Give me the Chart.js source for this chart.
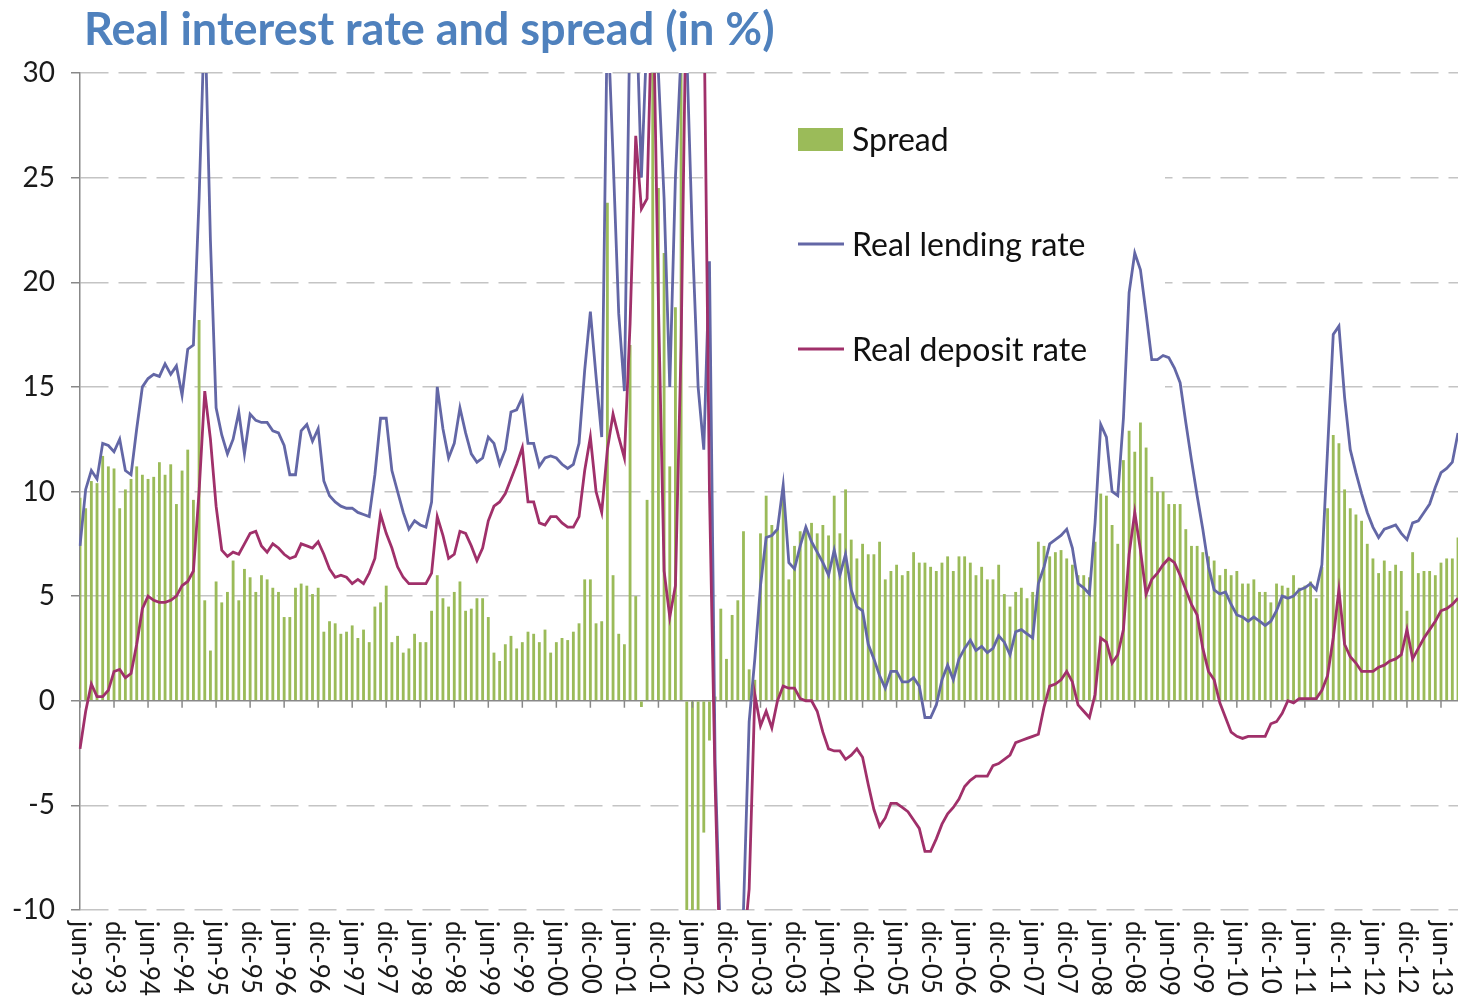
<!DOCTYPE html>
<html>
<head>
<meta charset="utf-8">
<title>Real interest rate and spread</title>
<script src="https://cdn.jsdelivr.net/npm/chart.js@4.4.1/dist/chart.umd.min.js"></script>
<style>
  html, body { margin: 0; padding: 0; background: #fff; }
  #wrap { width: 1458px; height: 1001px; }
</style>
</head>
<body>
<div id="wrap"><canvas id="myChart" width="1458" height="1001"></canvas></div>
<script>
const monthNames = ["ene", "feb", "mar", "abr", "may", "jun", "jul", "ago", "sep", "oct", "nov", "dic"];

// labels shown under the axis (every 6 months)
const tickLabels = [
  "jun-93", "dic-93", "jun-94", "dic-94", "jun-95", "dic-95", "jun-96", "dic-96",
  "jun-97", "dic-97", "jun-98", "dic-98", "jun-99", "dic-99", "jun-00", "dic-00",
  "jun-01", "dic-01", "jun-02", "dic-02", "jun-03", "dic-03", "jun-04", "dic-04",
  "jun-05", "dic-05", "jun-06", "dic-06", "jun-07", "dic-07", "jun-08", "dic-08",
  "jun-09", "dic-09", "jun-10", "dic-10", "jun-11", "dic-11", "jun-12", "dic-12",
  "jun-13"
];

// monthly values, jun-93 .. sep-13 (each row = jun..may)
const spread = [
  9.7, 9.2, 10.5, 10.4, 11.7, 11.2, 11.1, 9.2, 10.1, 10.6, 11.2, 10.8,
  10.6, 10.7, 11.4, 10.8, 11.3, 9.4, 11.0, 12.0, 9.6, 18.2, 4.8, 2.4,
  5.7, 4.7, 5.2, 6.7, 4.8, 6.3, 5.9, 5.2, 6.0, 5.8, 5.4, 5.2,
  4.0, 4.0, 5.4, 5.6, 5.5, 5.1, 5.4, 3.3, 3.8, 3.7, 3.2, 3.3,
  3.6, 3.0, 3.4, 2.8, 4.5, 4.7, 5.5, 2.8, 3.1, 2.3, 2.5, 3.2,
  2.8, 2.8, 4.3, 6.0, 4.9, 4.5, 5.2, 5.7, 4.3, 4.4, 4.9, 4.9,
  4.0, 2.3, 1.9, 2.7, 3.1, 2.5, 2.8, 3.3, 3.2, 2.8, 3.4, 2.3,
  2.8, 3.0, 2.9, 3.3, 3.7, 5.8, 5.8, 3.7, 3.8, 23.8, 6.0, 3.2,
  2.7, 17.0, 5.0, -0.3, 9.6, 31, 24.5, 21.4, 11.2, 18.8, 31, -11,
  -13, -12, -6.3, -1.9, 0.2, 4.4, 2.0, 4.1, 4.8, 8.1, 1.5, 1.0,
  8.0, 9.8, 8.4, 8.2, 9.7, 5.8, 7.4, 8.1, 8.1, 8.5, 8.0, 8.4,
  7.9, 9.8, 8.0, 10.1, 7.7, 6.8, 7.5, 7.0, 7.0, 7.6, 5.8, 6.2,
  6.5, 6.0, 6.2, 7.1, 6.6, 6.6, 6.4, 6.2, 6.6, 6.9, 6.2, 6.9,
  6.9, 6.6, 6.0, 6.4, 5.8, 5.8, 6.5, 5.1, 4.5, 5.2, 5.4, 4.9,
  5.2, 7.6, 7.4, 6.9, 7.1, 7.2, 6.8, 6.5, 6.0, 6.0, 5.9, 7.6,
  9.9, 9.8, 8.4, 7.5, 11.5, 12.9, 11.9, 13.3, 12.1, 10.7, 10.0, 10.0,
  9.4, 9.4, 9.4, 8.2, 7.4, 7.4, 7.1, 6.9, 6.7, 6.0, 6.3, 6.0,
  6.2, 5.6, 5.6, 5.8, 5.2, 5.2, 4.7, 5.6, 5.5, 5.4, 6.0, 5.4,
  5.5, 5.7, 4.9, 6.4, 9.2, 12.7, 12.3, 10.1, 9.2, 8.9, 8.6, 7.5,
  6.8, 6.1, 6.7, 6.2, 6.5, 6.2, 4.3, 7.1, 6.1, 6.2, 6.2, 6.0,
  6.6, 6.8, 6.8, 7.8
];

const lendingRate = [
  7.4, 10.1, 11.0, 10.6, 12.3, 12.2, 11.9, 12.5, 11.0, 10.8, 13.0, 15.0,
  15.4, 15.6, 15.5, 16.1, 15.6, 16.0, 14.6, 16.8, 17.0, 24, 33, 22,
  14.0, 12.7, 11.8, 12.5, 13.8, 11.8, 13.7, 13.4, 13.3, 13.3, 12.9, 12.8,
  12.2, 10.8, 10.8, 12.9, 13.2, 12.4, 13.0, 10.5, 9.8, 9.5, 9.3, 9.2,
  9.2, 9.0, 8.9, 8.8, 10.8, 13.5, 13.5, 11.0, 10.0, 9.0, 8.2, 8.6,
  8.4, 8.3, 9.5, 15.0, 13.0, 11.6, 12.3, 14.0, 12.8, 11.8, 11.4, 11.6,
  12.6, 12.3, 11.3, 12.0, 13.8, 13.9, 14.5, 12.3, 12.3, 11.2, 11.6, 11.7,
  11.6, 11.3, 11.1, 11.3, 12.3, 15.8, 18.6, 15.5, 12.6, 33, 26, 18.5,
  14.8, 33, 34, 25, 32, 36, 30, 24, 15, 25, 31, 31,
  22, 15, 12, 21, -3, -12, -16, -16, -14, -10, -1, 2,
  5.5, 7.8, 7.9, 8.2, 10.3, 6.6, 6.3, 7.4, 8.3, 7.6, 7.1, 6.6,
  6.0, 7.2, 6.0, 7.0, 5.3, 4.5, 4.3, 2.7, 2.0, 1.2, 0.6, 1.4,
  1.4, 0.9, 0.9, 1.1, 0.7, -0.8, -0.8, -0.2, 1.0, 1.7, 1.0, 2.0,
  2.5, 2.9, 2.4, 2.6, 2.3, 2.5, 3.1, 2.8, 2.2, 3.3, 3.4, 3.2,
  3.0, 5.6, 6.4, 7.5, 7.7, 7.9, 8.2, 7.3, 5.6, 5.4, 5.1, 8.5,
  13.2, 12.6, 10.0, 9.8, 13.5, 19.5, 21.4, 20.6, 18.5, 16.3, 16.3, 16.5,
  16.4, 15.9, 15.2, 13.3, 11.5, 9.8, 8.2, 6.4, 5.3, 5.1, 5.2, 4.6,
  4.1, 4.0, 3.8, 4.0, 3.8, 3.6, 3.8, 4.3, 5.0, 4.9, 5.0, 5.3,
  5.4, 5.6, 5.3, 6.5, 12.0, 17.5, 17.9, 14.5, 12.0, 10.9, 9.9, 9.0,
  8.3, 7.8, 8.2, 8.3, 8.4, 8.0, 7.7, 8.5, 8.6, 9.0, 9.4, 10.2,
  10.9, 11.1, 11.4, 12.8
];

const depositRate = [
  -2.3, -0.5, 0.8, 0.2, 0.2, 0.5, 1.4, 1.5, 1.1, 1.3, 2.7, 4.4,
  5.0, 4.8, 4.7, 4.7, 4.8, 5.0, 5.5, 5.7, 6.2, 10, 14.8, 12.5,
  9.3, 7.2, 6.9, 7.1, 7.0, 7.5, 8.0, 8.1, 7.4, 7.1, 7.5, 7.3,
  7.0, 6.8, 6.9, 7.5, 7.4, 7.3, 7.6, 7.0, 6.3, 5.9, 6.0, 5.9,
  5.6, 5.8, 5.6, 6.1, 6.8, 8.9, 8.0, 7.3, 6.4, 5.9, 5.6, 5.6,
  5.6, 5.6, 6.1, 8.8, 7.9, 6.8, 7.0, 8.1, 8.0, 7.4, 6.7, 7.3,
  8.6, 9.3, 9.5, 9.9, 10.6, 11.3, 12.1, 9.5, 9.5, 8.5, 8.4, 8.8,
  8.8, 8.5, 8.3, 8.3, 8.8, 11.0, 12.6, 10.0, 9.0, 12.0, 13.7, 12.6,
  11.6, 18, 27, 23.5, 24, 35, 19, 6.2, 4.0, 5.5, 17, 36,
  40, 40, 34, 10, -4, -14, -17, -16, -14, -12, -9, 0.3,
  -1.2, -0.5, -1.3, 0.0, 0.7, 0.6, 0.6, 0.1, 0.0, 0.0, -0.5, -1.5,
  -2.3, -2.4, -2.4, -2.8, -2.6, -2.3, -2.7, -4.0, -5.2, -6.0, -5.6, -4.9,
  -4.9, -5.1, -5.3, -5.7, -6.1, -7.2, -7.2, -6.6, -5.9, -5.4, -5.1, -4.7,
  -4.1, -3.8, -3.6, -3.6, -3.6, -3.1, -3.0, -2.8, -2.6, -2.0, -1.9, -1.8,
  -1.7, -1.6, -0.3, 0.7, 0.8, 1.0, 1.4, 0.9, -0.2, -0.5, -0.8, 0.3,
  3.0, 2.8, 1.8, 2.2, 3.4, 7.0, 9.0, 7.2, 5.1, 5.8, 6.1, 6.5,
  6.8, 6.6, 6.0, 5.3, 4.6, 4.1, 2.5, 1.4, 1.0, -0.1, -0.8, -1.5,
  -1.7, -1.8, -1.7, -1.7, -1.7, -1.7, -1.1, -1.0, -0.6, 0.0, -0.1, 0.1,
  0.1, 0.1, 0.1, 0.5, 1.2, 3.0, 5.3, 2.7, 2.1, 1.8, 1.4, 1.4,
  1.4, 1.6, 1.7, 1.9, 2.0, 2.2, 3.4, 2.0, 2.5, 3.0, 3.4, 3.8,
  4.3, 4.4, 4.6, 4.9
];

// month categories jun-93, jul-93, ...
const months = [];
for (let i = 0; i < spread.length; i++) {
  const m = (5 + i) % 12;
  const yy = (93 + Math.floor((5 + i) / 12)) % 100;
  months.push(monthNames[m] + "-" + String(yy).padStart(2, "0"));
}

const FONT = "Lato, 'Open Sans', sans-serif";
const GREEN = "#9BBB59";
const BLUE = "#6367A6";
const RED = "#A0306A";

// title, legend, rotated month labels
const decor = {
  id: "decor",
  beforeDatasetsDraw(chart) {
    // white area behind the legend hides the grid there
    const ctx = chart.ctx;
    ctx.save();
    ctx.fillStyle = "#fff";
    ctx.fillRect(703, 90, 462, 310);
    ctx.restore();
  },
  afterDraw(chart) {
    const { ctx, chartArea, scales } = chart;
    const y0 = scales.y.getPixelForValue(0);
    ctx.save();

    // tick marks on the zero line + labels at the bottom
    ctx.strokeStyle = "#888";
    ctx.lineWidth = 1.5;
    ctx.fillStyle = "#1a1a1a";
    ctx.font = "26px " + FONT;
    ctx.textAlign = "left";
    ctx.textBaseline = "middle";
    tickLabels.forEach(lbl => {
      const px = scales.x.getPixelForValue(months.indexOf(lbl));
      ctx.beginPath();
      ctx.moveTo(px, y0);
      ctx.lineTo(px, y0 + 7);
      ctx.stroke();
      ctx.save();
      ctx.translate(px, chartArea.bottom + 11);
      ctx.rotate(Math.PI / 2);
      ctx.fillText(lbl, 0, 0);
      ctx.restore();
    });

    // title
    ctx.fillStyle = "#4F81BD";
    ctx.font = "bold 45px " + FONT;
    ctx.textBaseline = "alphabetic";
    ctx.fillText("Real interest rate and spread (in %)", 84, 45);

    // legend
    ctx.font = "32px " + FONT;
    ctx.fillStyle = GREEN;
    ctx.fillRect(798, 128, 45, 23);
    ctx.lineWidth = 2.8;
    ctx.strokeStyle = BLUE;
    ctx.beginPath(); ctx.moveTo(798, 244); ctx.lineTo(844, 244); ctx.stroke();
    ctx.strokeStyle = RED;
    ctx.beginPath(); ctx.moveTo(798, 349); ctx.lineTo(844, 349); ctx.stroke();
    ctx.fillStyle = "#111";
    ctx.fillText("Spread", 852, 151);
    ctx.fillText("Real lending rate", 852, 256);
    ctx.fillText("Real deposit rate", 852, 361);

    ctx.restore();
  }
};

const ctx = document.getElementById("myChart").getContext("2d");

new Chart(ctx, {
  type: "bar",
  data: {
    labels: months,
    datasets: [
      {
        type: "line",
        label: "Real deposit rate",
        data: depositRate,
        borderColor: RED,
        borderWidth: 2.8,
        pointRadius: 0,
        tension: 0,
        order: 1
      },
      {
        type: "line",
        label: "Real lending rate",
        data: lendingRate,
        borderColor: BLUE,
        borderWidth: 2.8,
        pointRadius: 0,
        tension: 0,
        order: 2
      },
      {
        type: "bar",
        label: "Spread",
        data: spread,
        backgroundColor: GREEN,
        borderWidth: 0,
        barPercentage: 0.5,
        categoryPercentage: 1.0,
        order: 3
      }
    ]
  },
  options: {
    responsive: false,
    animation: false,
    layout: { padding: { top: 73, left: 0, right: 0, bottom: 91 } },
    plugins: {
      legend: { display: false },
      tooltip: { enabled: false }
    },
    scales: {
      x: {
        display: false,
        offset: false
      },
      y: {
        min: -10,
        max: 30,
        afterFit: scale => { scale.width = 80; },
        ticks: {
          stepSize: 5,
          padding: 16,
          color: "#1a1a1a",
          font: { family: FONT, size: 28 }
        },
        grid: {
          color: c => (c.tick && c.tick.value === 0) ? "#888" : "#c4c4c4",
          lineWidth: 1.5,
          tickLength: 9,
          tickColor: "#888",
          tickBorderDash: []
        },
        border: {
          display: true,
          color: "#888",
          width: 1.5,
          dash: c => (c.tick && c.tick.value === 0) ? [] : [28, 10]
        }
      }
    }
  },
  plugins: [decor]
});
</script>
</body>
</html>
